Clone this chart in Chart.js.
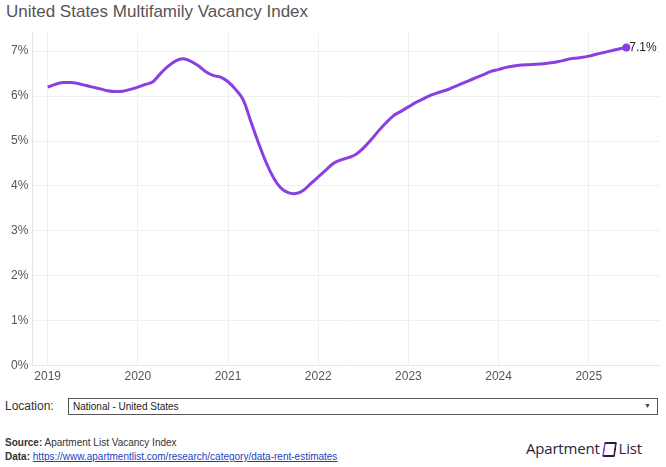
<!DOCTYPE html>
<html>
<head>
<meta charset="utf-8">
<script src="https://cdn.jsdelivr.net/npm/chart.js@4"></script>
<style>
  body { margin: 0; width: 666px; height: 467px; background: #fff; font-family: "Liberation Sans", Arial, sans-serif; position: relative; overflow: hidden; }
  #title { position: absolute; left: 6px; top: 2px; font-size: 17px; color: #555; }
  #wrap { position: absolute; left: 0; top: 22px; width: 666px; height: 366px; }
  #loc { position: absolute; left: 5px; top: 399px; font-size: 12px; color: #333; }
  #sel { position: absolute; left: 68px; top: 398px; width: 590px; height: 17px; border: 1px solid #555; box-sizing: border-box; font-size: 10px; color: #222; padding: 2px 0 0 4px; }
  #sel span { position: absolute; right: 6px; top: 3px; font-size: 7px; color: #444; }
  #src { position: absolute; left: 5px; top: 436px; font-size: 10px; color: #333; line-height: 14px; }
  #src a { color: #1a3fbf; }
  #logo { position: absolute; left: 526px; top: 438px; font-size: 15px; color: #2b1d3d; font-family: "Open Sans", sans-serif; letter-spacing: -0.2px; }
  #logo i { display: inline-block; width: 13px; height: 15px; border: 2px solid #2b1d3d; border-left-color: #8a3fe0; border-radius: 2px; transform: skewX(-8deg); vertical-align: -3px; margin: 0 3px; box-sizing: border-box; }
</style>
</head>
<body>
<div id="title">United States Multifamily Vacancy Index</div>
<div id="wrap"><canvas id="chart"></canvas></div>
<div id="loc">Location:</div>
<div id="sel">National - United States<span>&#9660;</span></div>
<div id="src"><b>Source:</b> Apartment List Vacancy Index<br><b>Data:</b> <a href="#">https://www.apartmentlist.com/research/category/data-rent-estimates</a></div>
<div id="logo">Apartment<i></i>List</div>
<script>
// monthly vacancy rate (%), Jan 2019 .. Jun 2025
const startYear = 2019;
const vacancy2019 = [6.20, 6.26, 6.30, 6.30, 6.28, 6.24, 6.20, 6.16, 6.12, 6.10, 6.11, 6.15];
const vacancy2020 = [6.20, 6.26, 6.32, 6.50, 6.66, 6.78, 6.83, 6.78, 6.68, 6.55, 6.46, 6.42];
const vacancy2021 = [6.32, 6.15, 5.92, 5.45, 4.98, 4.55, 4.20, 3.96, 3.85, 3.83, 3.90, 4.05];
const vacancy2022 = [4.20, 4.35, 4.50, 4.58, 4.63, 4.70, 4.84, 5.02, 5.22, 5.40, 5.56, 5.66];
const vacancy2023 = [5.76, 5.86, 5.94, 6.02, 6.08, 6.13, 6.20, 6.27, 6.34, 6.41, 6.48, 6.55];
const vacancy2024 = [6.59, 6.64, 6.67, 6.69, 6.70, 6.71, 6.72, 6.74, 6.77, 6.81, 6.84, 6.86];
const vacancy2025 = [6.89, 6.93, 6.97, 7.01, 7.05, 7.08];
const yTicks = [0, 1, 2, 3, 4, 5, 6, 7];
const lastLabel = "7.1%";

const values = [].concat(vacancy2019, vacancy2020, vacancy2021, vacancy2022, vacancy2023, vacancy2024, vacancy2025);
const points = values.map((v, i) => ({ x: startYear + i / 12, y: v }));

const endLabel = {
  id: 'endLabel',
  afterDatasetsDraw(chart) {
    const meta = chart.getDatasetMeta(0);
    const pt = meta.data[meta.data.length - 1];
    const ctx = chart.ctx;
    ctx.save();
    ctx.font = '12px "Liberation Sans", Arial, sans-serif';
    ctx.fillStyle = '#222';
    ctx.textBaseline = 'middle';
    ctx.fillText(lastLabel, pt.x + 3, pt.y);
    ctx.restore();
  }
};

new Chart(document.getElementById('chart'), {
  type: 'line',
  data: {
    datasets: [{
      data: points,
      borderColor: '#8a3fe0',
      backgroundColor: '#8a3fe0',
      borderWidth: 3,
      tension: 0.4,
      pointRadius: points.map((p, i) => i === points.length - 1 ? 2.5 : 0),
      pointHoverRadius: 0
    }]
  },
  options: {
    responsive: true,
    maintainAspectRatio: false,
    animation: false,
    layout: { padding: { left: 7, right: 6, top: 4, bottom: 0 } },
    plugins: { legend: { display: false }, tooltip: { enabled: false } },
    scales: {
      x: {
        type: 'linear',
        min: 2018.83,
        max: 2025.79,
        afterBuildTicks: (axis) => { axis.ticks = [2019, 2020, 2021, 2022, 2023, 2024, 2025].map(v => ({ value: v })); },
        ticks: {
          color: '#555',
          font: { size: 12, family: '"Liberation Sans", Arial, sans-serif' },
          callback: (v) => String(v),
          maxRotation: 0,
          padding: 4
        },
        grid: { color: '#efefef', drawTicks: false },
        border: { color: '#e6e6e6' }
      },
      y: {
        min: 0,
        max: 7.4,
        afterBuildTicks: (axis) => { axis.ticks = yTicks.map(v => ({ value: v })); },
        ticks: {
          color: '#555',
          font: { size: 12, family: '"Liberation Sans", Arial, sans-serif' },
          callback: (v) => v + '%',
          padding: 4
        },
        grid: { color: '#efefef', drawTicks: false },
        border: { color: '#e6e6e6' }
      }
    }
  },
  plugins: [endLabel]
});
</script>
</body>
</html>
